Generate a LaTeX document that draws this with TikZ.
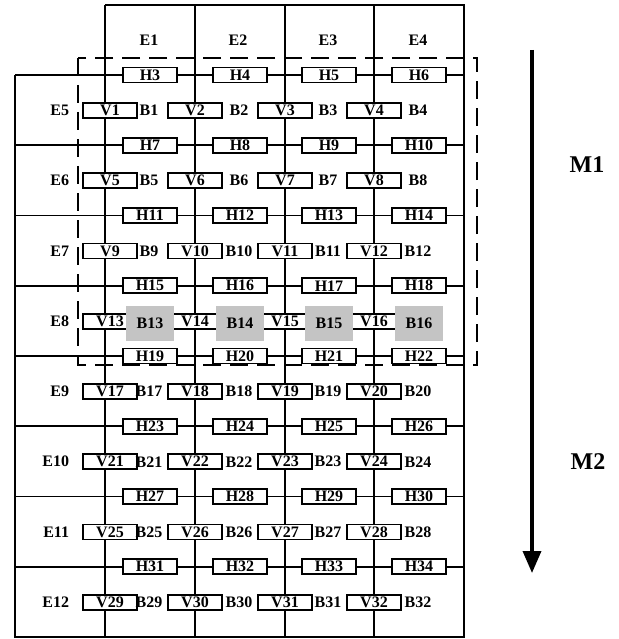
\documentclass[tikz,border=0pt]{standalone}
\usepackage{fontspec}
\setmainfont{Liberation Serif}
\usepackage{xcolor}
\usepackage{tikz}
\usetikzlibrary{calc, arrows.meta, positioning}

\definecolor{cellgray}{RGB}{196,196,196}
\newcommand{\cellfont}{\fontsize{16}{16}\selectfont\bfseries}
\tikzset{
    cellbox/.style={draw, fill=white, line width=1.6pt, minimum width=54pt,
        minimum height=15pt, inner sep=0pt, font=\cellfont},
    celltext/.style={inner sep=0pt, font=\cellfont},
    grayblock/.style={fill=cellgray, minimum width=48pt, minimum height=35pt,
        inner sep=0pt, font=\cellfont}
}

\begin{document}
\begin{tikzpicture}[x=1pt, y=-1pt, line width=1.8pt]
    \useasboundingbox (0,0) rectangle (618,639);

    % 1. Luoi o
    \foreach \j in {0,...,7}
        \draw (15,{75+70.25*\j}) -- (464,{75+70.25*\j});
    \foreach \vx in {105,195,285,374}
        \draw (\vx,5) -- (\vx,637);
    \draw (105,5) -- (464,5) -- (464,637) -- (15,637) -- (15,75);

    % 2. Vung M1 (net dut)
    \draw[dash pattern=on 18pt off 9pt] (78,58) rectangle (477,365);

    % 3. Cac o H, V
    \foreach \j in {0,...,7}
        \foreach \i/\cx/\vx in {0/150/110, 1/240/195, 2/329/285, 3/419/374} {
            \pgfmathtruncatemacro{\hn}{3+4*\j+\i}
            \pgfmathtruncatemacro{\vn}{1+4*\j+\i}
            \node[cellbox] (h\hn) at (\cx,{75+70.25*\j}) {H\hn};
            \node[cellbox] (v\vn) at (\vx,{110.5+70.25*\j}) {V\vn};
        }

    % 4. Cac nhan B
    \foreach \j in {0,...,7}
        \foreach \i/\cx in {0/150, 1/240, 2/329, 3/419} {
            \pgfmathtruncatemacro{\bn}{1+4*\j+\i}
            \ifnum\j=3
                \node[grayblock] (b\bn) at (\cx,323) {B\bn};
            \else
                \node[celltext] (b\bn) at ({\cx-1},{110.5+70.25*\j}) {B\bn};
            \fi
        }

    % 5. Nhan E
    \foreach \i/\cx in {1/149, 2/238, 3/328, 4/418}
        \node[celltext] (e\i) at (\cx,40) {E\i};
    \foreach \j in {0,...,7} {
        \pgfmathtruncatemacro{\en}{5+\j}
        \node[celltext, anchor=east] (e\en) at (70,{110.5+70.25*\j}) {E\en};
    }

    % 6. Mui ten M1, M2
    \coordinate (mtop) at (532,50);
    \coordinate (mbot) at (532,573);
    \draw[line width=3.5pt, -{Triangle[length=22pt, width=18pt]}] (mtop) -- (mbot);
    \node[font=\fontsize{24}{24}\selectfont\bfseries] (m1) at (587,165) {M1};
    \node[font=\fontsize{24}{24}\selectfont\bfseries] (m2) at (588,462) {M2};
\end{tikzpicture}
\end{document}
